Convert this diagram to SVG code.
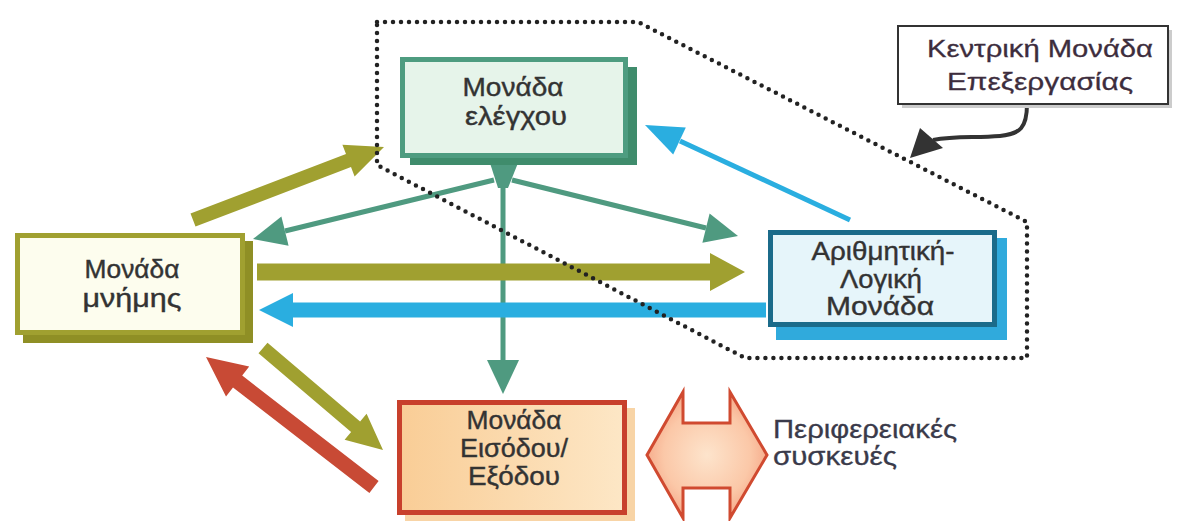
<svg xmlns="http://www.w3.org/2000/svg" width="1180" height="521" viewBox="0 0 1180 521">
<defs>
<style>
.lbl{font-family:"Liberation Sans",Arial,sans-serif;font-size:26px;fill:#333;stroke:#333;stroke-width:0.4;text-anchor:middle}
.lbl2{font-family:"Liberation Sans",Arial,sans-serif;font-size:25px;fill:#333;stroke:#333;stroke-width:0.4;text-anchor:middle}
.call{font-family:"Liberation Sans",Arial,sans-serif;font-size:24px;fill:#3d2d3d;stroke:#3d2d3d;stroke-width:0.3;text-anchor:middle}
.per{font-family:"Liberation Sans",Arial,sans-serif;font-size:25px;fill:#3a3a4a;stroke:#3a3a4a;stroke-width:0.3}
.teal{stroke:#4f9a80;stroke-width:5;fill:none}
.tealf{fill:#4f9a80}
.olive{fill:#a0a030}
.blue{fill:#2aaee0}
.red{fill:#c84a35}
.dots{fill:none;stroke:#222;stroke-width:4.5;stroke-linecap:round;stroke-linejoin:round;stroke-dasharray:0 8}
</style>
<linearGradient id="ioG" x1="0" y1="0" x2="1" y2="0">
<stop offset="0" stop-color="#f9cd96"/><stop offset="1" stop-color="#fde7c6"/>
</linearGradient>
<radialGradient id="perG" cx="0.5" cy="0.5" r="0.6">
<stop offset="0" stop-color="#fde4cc"/><stop offset="0.6" stop-color="#fbc8a8"/><stop offset="1" stop-color="#f39a7a"/>
</radialGradient>
</defs>
<rect width="1180" height="521" fill="#fff"/>

<g id="connectors">
<polygon class="olive" points="190.5,213.5 346,154.1 342.4,144.7 384,147 354.6,176.5 351,167.1 195.5,226.5"/>
<line class="teal" x1="494" y1="180" x2="285" y2="231"/>
<polygon class="tealf" points="253,239 281.4,216.5 288.6,245.7"/>
<line class="teal" x1="512" y1="180" x2="706" y2="228"/>
<polygon class="tealf" points="738,236 709.6,213.5 702.4,242.7"/>
<line class="teal" x1="503" y1="175" x2="503" y2="362"/>
<polygon class="tealf" points="487,360 519,360 503,394"/>
<polygon class="tealf" points="490,163 518,163 508,188 498,188"/>
<polygon class="olive" points="257,263.5 710,263.5 710,253 745,272 710,291 710,280.5 257,280.5"/>
<polygon class="blue" points="766,302.5 293,302.5 293,293 259,310 293,327 293,317.5 766,317.5"/>
<line x1="850" y1="220" x2="680" y2="141" stroke="#2aaee0" stroke-width="5"/>
<polygon class="blue" points="645,125 685.8,127.4 673.2,154.6"/>
<polygon class="olive" points="267.5,342.7 360.1,421.4 366.6,413.7 383,450 344.6,439.7 351.1,432 258.5,353.3"/>
<polygon class="red" points="378.6,481.1 242.2,375.6 249.2,366.5 206,357 226,396.5 233,387.4 369.4,492.9"/>
<path d="M1027,104 C1027,128 1020,134 1000,136 C975,138 955,136 933,140" fill="none" stroke="#333" stroke-width="4"/>
<polygon points="910,158 920,128 943,148" fill="#333"/>
</g>

<g id="cpu-boundary">
<path class="dots" d="M377,22 L638,22 L1027,222 L1027,358 L745,358 L377,165 Z"/>
</g>

<g id="control-unit">
<rect x="410" y="67" width="227" height="98" fill="#3f8c6c"/>
<rect x="402.5" y="59.5" width="223" height="96" fill="#e6f4ea" stroke="#4e9c80" stroke-width="5"/>
<text class="lbl" x="513" y="96" textLength="101" lengthAdjust="spacingAndGlyphs">Μονάδα</text>
<text class="lbl" x="516" y="125" textLength="102" lengthAdjust="spacingAndGlyphs">ελέγχου</text>
</g>

<g id="memory-unit">
<rect x="23" y="241" width="230" height="102" fill="#8f8f25"/>
<rect x="17.5" y="235.5" width="225" height="97" fill="#fdfdee" stroke="#a0a030" stroke-width="5"/>
<text class="lbl2" x="132" y="278" textLength="95" lengthAdjust="spacingAndGlyphs">Μονάδα</text>
<text class="lbl2" x="132" y="307" textLength="99" lengthAdjust="spacingAndGlyphs">μνήμης</text>
</g>

<g id="alu">
<rect x="776" y="238" width="231" height="102" fill="#30aadc"/>
<rect x="770.5" y="232.5" width="224" height="92" fill="#e6f5fa" stroke="#1b6b8a" stroke-width="5"/>
<text class="lbl" x="883" y="260" textLength="143" lengthAdjust="spacingAndGlyphs">Αριθμητική-</text>
<text class="lbl" x="881" y="288" textLength="82" lengthAdjust="spacingAndGlyphs">Λογική</text>
<text class="lbl" x="880" y="315" textLength="108" lengthAdjust="spacingAndGlyphs">Μονάδα</text>
</g>

<g id="io-unit">
<rect x="405" y="408" width="230" height="113" fill="#f8d4a6"/>
<rect x="399.5" y="402.5" width="225" height="110" fill="url(#ioG)" stroke="#c8402c" stroke-width="5"/>
<text class="lbl" x="514" y="429" textLength="95" lengthAdjust="spacingAndGlyphs">Μονάδα</text>
<text class="lbl" x="514" y="457" textLength="108" lengthAdjust="spacingAndGlyphs">Εισόδου/</text>
<text class="lbl" x="514" y="485" textLength="92" lengthAdjust="spacingAndGlyphs">Εξόδου</text>
</g>

<g id="peripherals">
<polygon points="647,455 683,392 683,423 730,423 730,392 767,455 730,518 730,488 683,488 683,518" fill="url(#perG)" stroke="#d04a30" stroke-width="3" stroke-linejoin="miter"/>
<text class="per" x="773" y="438" textLength="184" lengthAdjust="spacingAndGlyphs">Περιφερειακές</text>
<text class="per" x="773" y="465" textLength="124" lengthAdjust="spacingAndGlyphs">συσκευές</text>
</g>

<g id="cpu-label">
<rect x="902" y="30" width="270" height="78" fill="#ccc"/>
<rect x="898" y="26" width="270" height="78" fill="#fff" stroke="#333" stroke-width="2"/>
<text class="call" x="1040" y="57" textLength="226" lengthAdjust="spacingAndGlyphs">Κεντρική Μονάδα</text>
<text class="call" x="1040" y="90" textLength="186" lengthAdjust="spacingAndGlyphs">Επεξεργασίας</text>
</g>
</svg>
